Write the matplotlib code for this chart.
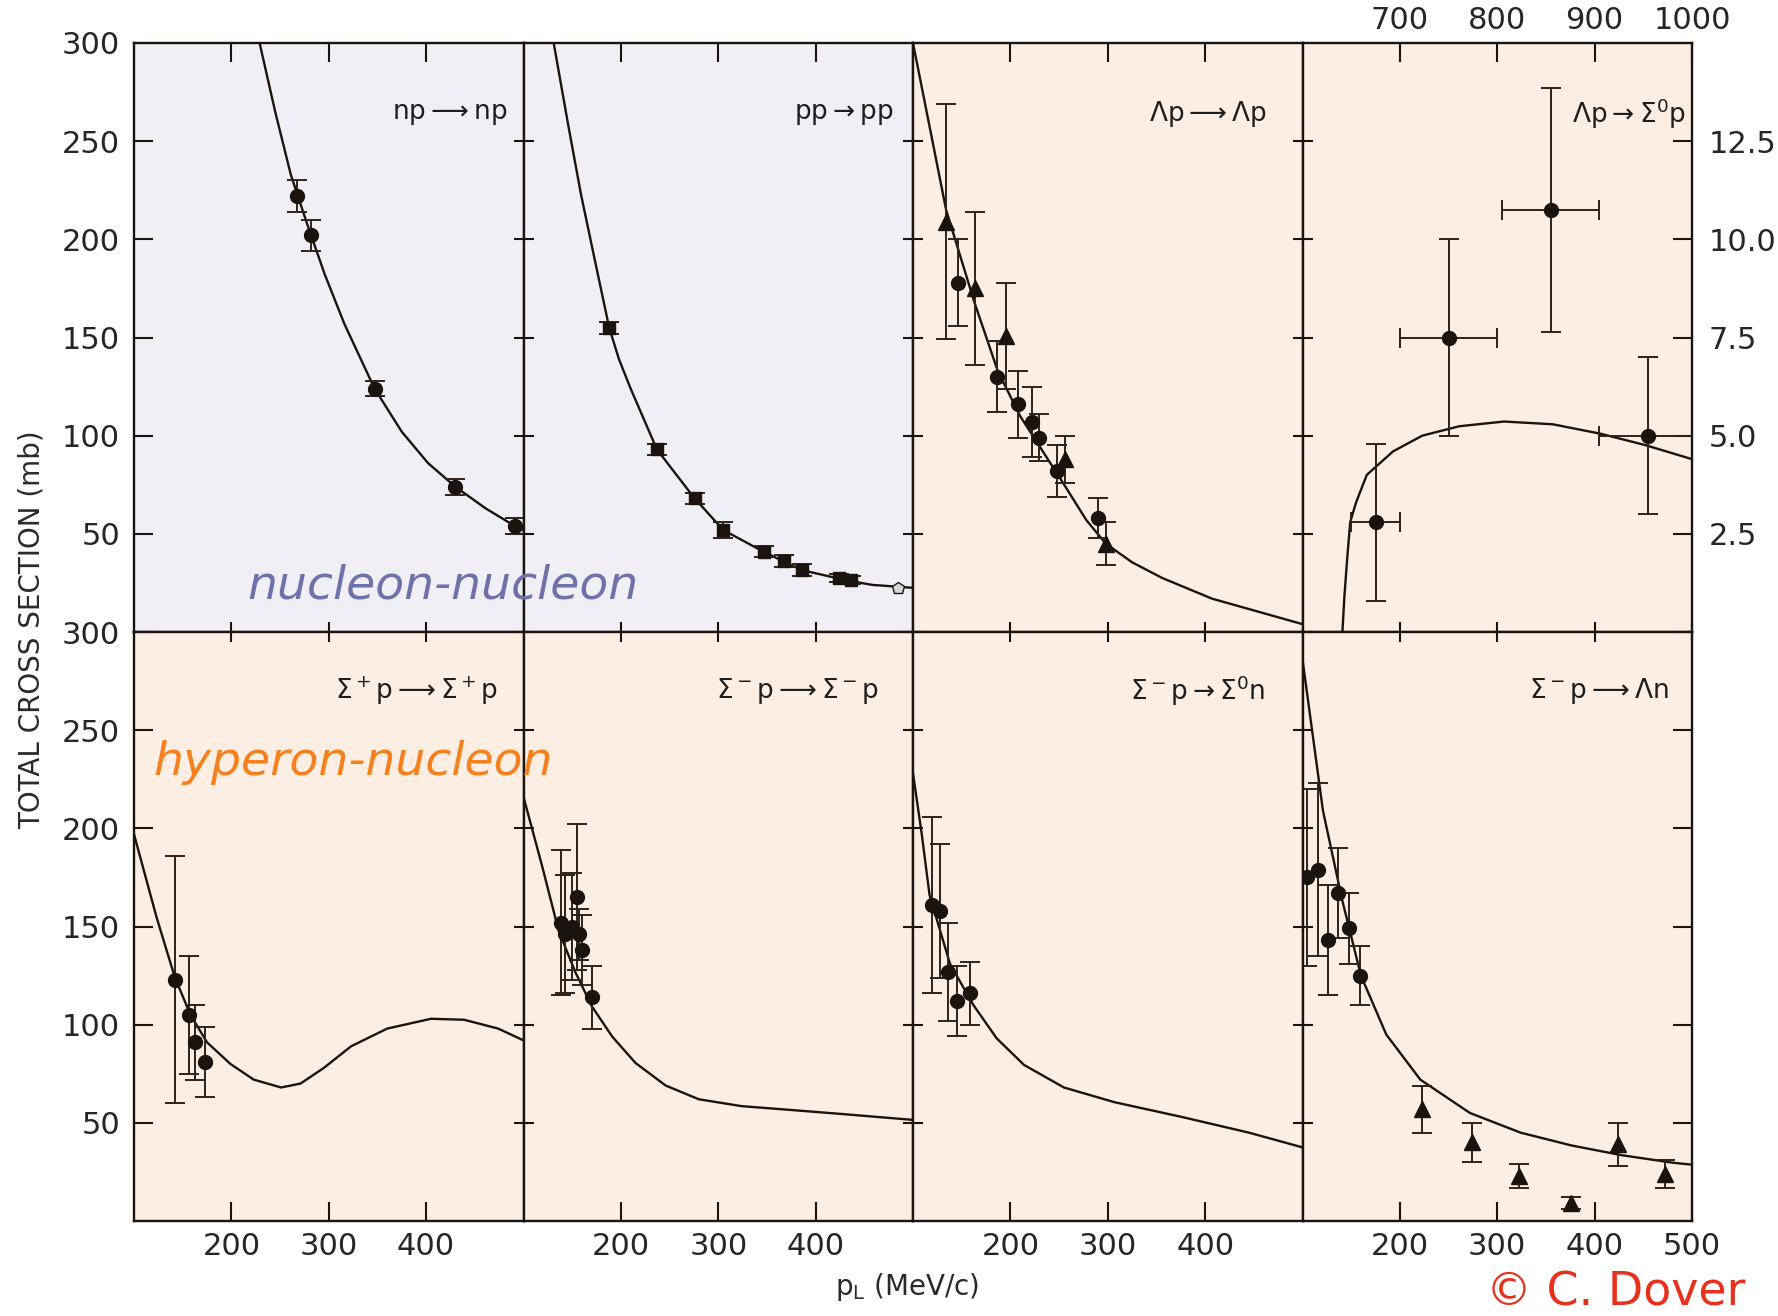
import matplotlib
matplotlib.use("Agg")
import matplotlib.pyplot as plt
from matplotlib.ticker import FormatStrFormatter

INK = "#1b130d"
BAR = "#2e231b"
LAVENDER = "#efeff5"
PEACH = "#fdeee3"

plt.rcParams["font.family"] = "DejaVu Sans"
plt.rcParams["mathtext.fontset"] = "dejavusans"

# ---- np -> np
NP_CURVE_P = [229, 245, 261, 277, 296, 316, 347, 375, 402, 430, 461, 491, 500]
NP_CURVE_S = [300, 265, 233, 209, 182, 157, 124, 102, 86, 74, 63, 54, 52]
NP_P = [267, 282, 347, 430, 491]
NP_S = [222, 202, 124, 74, 54]
NP_ERR = [8, 8, 4, 4, 4]

# ---- pp -> pp
PP_CURVE_P = [131, 146, 159, 173, 188, 198, 210, 237, 275, 305, 346, 386, 430, 458, 500]
PP_CURVE_S = [300, 258, 223, 190, 155, 139, 124, 93, 68.5, 52, 41, 31.5, 26.5, 24, 22.5]
PP_P = [188, 237, 276, 305, 347, 368, 386, 424, 436]
PP_S = [155, 93, 68, 52, 41, 36, 31.5, 27.5, 26.5]
PP_ERR = [3, 3, 3, 4, 3, 3, 3, 2, 2]
PP_OPEN_P = [485]
PP_OPEN_S = [22.5]

# ---- Lambda p -> Lambda p
LP_CURVE_P = [100, 134, 163, 187, 210, 254, 278, 298, 325, 356, 407, 500]
LP_CURVE_S = [300, 215, 168, 133, 110, 76, 57, 45, 35.5, 27.5, 17, 4]
LP_TRI_P = [134, 164, 195, 256, 298]
LP_TRI_S = [209, 175, 151, 88, 45]
LP_TRI_ERR = [60, 39, 27, 12, 11]
LP_DOT_P = [146, 186, 208, 222, 229, 248, 290]
LP_DOT_S = [178, 130, 116, 107, 99, 82, 58]
LP_DOT_ERR = [22, 18, 17, 18, 12, 13, 10]

# ---- Lambda p -> Sigma0 p (upper/right scales)
LS_CURVE_P = [641, 643, 646, 649, 655, 666, 693, 723, 761, 807, 857, 906, 952, 1003]
LS_CURVE_S = [0, 0.9, 1.9, 2.8, 3.3, 4.0, 4.6, 5.0, 5.24, 5.36, 5.29, 5.05, 4.76, 4.38]
LS_P = [675, 750, 855, 955]
LS_PERR = [25, 50, 50, 50]
LS_S = [2.8, 7.5, 10.75, 5.0]
LS_SERR = [2.0, 2.5, 3.1, 2.0]

# ---- Sigma+ p -> Sigma+ p
SPP_CURVE_P = [100, 123, 142, 158, 175, 199, 223, 251, 271, 295, 323, 360, 405, 439, 474, 500]
SPP_CURVE_S = [197, 155, 124, 105, 91, 80, 72, 68, 70, 78, 89, 98, 103, 102.5, 98, 92]
SPP_P = [142, 156, 163, 173]
SPP_S = [123, 105, 91, 81]
SPP_ERR = [63, 30, 19, 18]

# ---- Sigma- p -> Sigma- p
SMP_CURVE_P = [100, 119, 136, 153, 170, 191, 215, 246, 280, 324, 376, 427, 500]
SMP_CURVE_S = [216, 181, 148, 127, 109.5, 94, 80.5, 69, 62, 58.5, 56.5, 54.5, 51.5]
SMP_P = [138, 143, 150, 155, 157, 160, 170]
SMP_S = [152, 146, 150, 165, 146, 138, 114]
SMP_ERR = [37, 30, 27, 37, 13, 18, 16]

# ---- Sigma- p -> Sigma0 n
S0N_CURVE_P = [100, 109, 117, 138, 162, 186, 214, 255, 307, 376, 445, 500]
S0N_CURVE_S = [228, 197, 166, 131, 110, 93, 79.5, 68, 60.5, 53, 45, 37.5]
S0N_P = [119, 128, 136, 145, 159]
S0N_S = [161, 158, 127, 112, 116]
S0N_ERR = [45, 34, 25, 18, 16]

# ---- Sigma- p -> Lambda n
LN_CURVE_P = [100, 121, 141, 160, 186, 221, 272, 324, 376, 428, 480, 500]
LN_CURVE_S = [286, 209, 163, 125, 95, 72, 55, 45, 38.5, 33.5, 29.7, 28.7]
LN_DOT_P = [105, 116, 126, 136, 148, 159]
LN_DOT_S = [175, 179, 143, 167, 149, 125]
LN_DOT_ERR = [45, 44, 28, 23, 18, 15]
LN_TRI_P = [223, 274, 322, 376, 424, 472]
LN_TRI_S = [57, 40, 23, 9, 39, 24]
LN_TRI_ERR = [12, 10, 6, 3, 11, 7]

W, H = 1778, 1316
LEFTS = [134, 523.5, 913, 1302.5]
TOPS = [43, 632]
PW, PH = 389.5, 589
OUTER, INNER = 14, 7
TICK_FS = 22

fig = plt.figure(figsize=(W / 100, H / 100), dpi=100)


def panel(col, row, fc):
    ax = fig.add_axes([LEFTS[col] / W, 1 - (TOPS[row] + PH) / H, PW / W, PH / H], facecolor=fc)
    for s in ax.spines.values():
        s.set_color(INK)
        s.set_linewidth(1.7)
    return ax


def tick_lengths(ax, col, row):
    for t in ax.yaxis.get_major_ticks():
        t.tick1line.set_markersize(OUTER if col == 0 else INNER)
        t.tick2line.set_markersize(OUTER if col == 3 else INNER)
    for t in ax.xaxis.get_major_ticks():
        t.tick1line.set_markersize(OUTER if row == 1 else INNER)
        t.tick2line.set_markersize(OUTER if row == 0 else INNER)


def std_axes(ax, col, row):
    ax.set_xlim(100, 500)
    ax.set_ylim(0, 300)
    ax.set_xticks([200, 300, 400, 500] if (col == 3 and row == 1) else [200, 300, 400])
    ax.set_yticks([50, 100, 150, 200, 250, 300])
    ax.tick_params(direction="in", color=INK, width=1.5, labelsize=TICK_FS, labelcolor="#262626",
                   left=True, right=True, top=True, bottom=True,
                   labelleft=(col == 0), labelright=False,
                   labeltop=False, labelbottom=(row == 1))
    ax.tick_params(axis="y", pad=10)
    ax.tick_params(axis="x", pad=8)
    tick_lengths(ax, col, row)


def curve(ax, p, s):
    ax.plot(p, s, color=INK, lw=1.7, zorder=3, clip_on=True)


def points(ax, p, s, err, marker, ms=10, xerr=None, mfc=INK):
    ax.errorbar(p, s, yerr=err, xerr=xerr, fmt=marker, ms=ms, color=INK, mfc=mfc, mec=INK,
                ecolor=BAR, elinewidth=1.4, capsize=7, capthick=1.4, zorder=4)


def reaction(ax, text, xf, yf):
    ax.text(xf, yf, text, transform=ax.transAxes, ha="right", va="center",
            fontsize=19, color="#1e1e1e")


# top row
ax = panel(0, 0, LAVENDER)
std_axes(ax, 0, 0)
curve(ax, NP_CURVE_P, NP_CURVE_S)
points(ax, NP_P, NP_S, NP_ERR, "o")
reaction(ax, r"$\mathrm{np}\longrightarrow\mathrm{np}$", 0.96, 0.88)

ax = panel(1, 0, LAVENDER)
std_axes(ax, 1, 0)
curve(ax, PP_CURVE_P, PP_CURVE_S)
points(ax, PP_P, PP_S, PP_ERR, "s", ms=9)
points(ax, PP_OPEN_P, PP_OPEN_S, None, "p", ms=9, mfc="#d8d8dc")
reaction(ax, r"$\mathrm{pp}\rightarrow\mathrm{pp}$", 0.95, 0.88)

ax = panel(2, 0, PEACH)
std_axes(ax, 2, 0)
curve(ax, LP_CURVE_P, LP_CURVE_S)
points(ax, LP_TRI_P, LP_TRI_S, LP_TRI_ERR, "^", ms=11)
points(ax, LP_DOT_P, LP_DOT_S, LP_DOT_ERR, "o")
reaction(ax, r"$\Lambda\mathrm{p}\longrightarrow\Lambda\mathrm{p}$", 0.91, 0.88)

ax = panel(3, 0, PEACH)
ax.set_xlim(600, 1000)
ax.set_ylim(0, 15)
ax.set_xticks([700, 800, 900, 1000])
ax.set_yticks([2.5, 5.0, 7.5, 10.0, 12.5])
ax.yaxis.set_major_formatter(FormatStrFormatter("%.1f"))
ax.tick_params(direction="in", color=INK, width=1.5, labelsize=TICK_FS, labelcolor="#262626",
               left=True, right=True, top=True, bottom=True,
               labelleft=False, labelright=True, labeltop=True, labelbottom=False)
ax.tick_params(axis="y", pad=12)
ax.tick_params(axis="x", pad=6)
tick_lengths(ax, 3, 0)
curve(ax, LS_CURVE_P, LS_CURVE_S)
points(ax, LS_P, LS_S, LS_SERR, "o", xerr=LS_PERR)
reaction(ax, r"$\Lambda\mathrm{p}\rightarrow\Sigma^0\mathrm{p}$", 0.985, 0.88)

# bottom row
ax = panel(0, 1, PEACH)
std_axes(ax, 0, 1)
curve(ax, SPP_CURVE_P, SPP_CURVE_S)
points(ax, SPP_P, SPP_S, SPP_ERR, "o")
reaction(ax, r"$\Sigma^+\mathrm{p}\longrightarrow\Sigma^+\mathrm{p}$", 0.933, 0.9)

ax = panel(1, 1, PEACH)
std_axes(ax, 1, 1)
curve(ax, SMP_CURVE_P, SMP_CURVE_S)
points(ax, SMP_P, SMP_S, SMP_ERR, "o")
reaction(ax, r"$\Sigma^-\mathrm{p}\longrightarrow\Sigma^-\mathrm{p}$", 0.913, 0.9)

ax = panel(2, 1, PEACH)
std_axes(ax, 2, 1)
curve(ax, S0N_CURVE_P, S0N_CURVE_S)
points(ax, S0N_P, S0N_S, S0N_ERR, "o")
reaction(ax, r"$\Sigma^-\mathrm{p}\rightarrow\Sigma^0\mathrm{n}$", 0.904, 0.9)

ax = panel(3, 1, PEACH)
std_axes(ax, 3, 1)
curve(ax, LN_CURVE_P, LN_CURVE_S)
points(ax, LN_DOT_P, LN_DOT_S, LN_DOT_ERR, "o")
points(ax, LN_TRI_P, LN_TRI_S, LN_TRI_ERR, "^", ms=11)
reaction(ax, r"$\Sigma^-\mathrm{p}\longrightarrow\Lambda\mathrm{n}$", 0.94, 0.9)

# axis titles and annotations
fig.text(32 / W, 1 - 630 / H, "TOTAL CROSS SECTION (mb)", rotation=90,
         ha="center", va="center", fontsize=20, color="#2a2a2a")
fig.text(907 / W, 1 - 1287 / H, r"p$_\mathrm{L}$ (MeV/c)", ha="center", va="center",
         fontsize=20, color="#2a2a2a")
fig.text(247 / W, 1 - 598 / H, "nucleon-nucleon", color="#6e72a8", fontsize=34,
         style="oblique", ha="left", va="baseline")
fig.text(153 / W, 1 - 775 / H, "hyperon-nucleon", color="#f5801e", fontsize=34,
         style="oblique", ha="left", va="baseline")
fig.text(1486 / W, 10 / H, "© C. Dover", color="#e8311d", fontsize=33,
         ha="left", va="baseline")

fig.savefig("out.png", dpi=100)
